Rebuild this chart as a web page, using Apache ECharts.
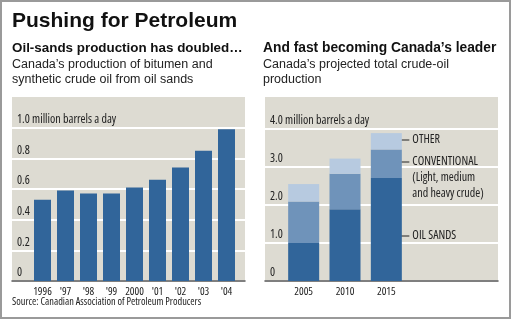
<!DOCTYPE html>
<html>
<head>
<meta charset="utf-8">
<script src="https://cdn.jsdelivr.net/npm/echarts@6/dist/echarts.min.js"></script>
<style>
  html, body { margin: 0; padding: 0; background: #fff; }
  #chart { width: 520px; height: 322px; }
</style>
</head>
<body>
<div id="chart"></div>
<script>
// Oil-sands output, million barrels a day
const years = ['1996', "'97", "'98", "'99", '2000', "'01", "'02", "'03", "'04"];
const oilSandsOutput = [0.53, 0.59, 0.57, 0.57, 0.61, 0.66, 0.74, 0.85, 0.99];
const leftTickLabels = ['0', '0.2', '0.4', '0.6', '0.8', '1.0 million barrels a day'];

// Projected total crude-oil production, million barrels a day
const projYears = ['2005', '2010', '2015'];
const oilSands = [1.0, 1.89, 2.71];
const conventional = [1.09, 0.93, 0.75];
const other = [0.46, 0.40, 0.43];
const rightTickLabels = ['0', '1.0', '2.0', '3.0', '4.0 million barrels a day'];
const segmentNames = ['OIL SANDS', 'CONVENTIONAL\n(Light, medium\nand heavy crude)', 'OTHER'];

const NARROW = "'Open Sans', 'Liberation Sans', sans-serif";
const SANS = "'Liberation Sans', Arial, sans-serif";
const PANEL = '#dddbd2';
const DARK = '#31659a';
const MID = '#6f93ba';
const LIGHT = '#b7cae0';

const chart = echarts.init(document.getElementById('chart'), null, { renderer: 'canvas' });

function panelY(idx, max, interval, labels) {
  return {
    gridIndex: idx, type: 'value', min: 0, max: max, interval: interval,
    axisLine: { show: false }, axisTick: { show: false },
    splitLine: { show: true, showMaxLine: false, lineStyle: { color: '#fff', width: 2 } },
    axisLabel: {
      inside: true, margin: 5, showMaxLabel: false,
      color: '#222', fontFamily: NARROW, fontStyle: 'condensed', fontSize: 12,
      verticalAlign: 'bottom', padding: [0, 0, 2, 0],
      formatter: v => {
        const i = Math.round(v / interval);
        return Math.abs(v - i * interval) < 1e-6 ? (labels[i] || '') : '';
      }
    }
  };
}
function hiddenY(idx, max) {
  return { gridIndex: idx, type: 'value', min: 0, max: max, show: false };
}
function baseX(idx) {
  return {
    gridIndex: idx, type: 'value', min: 0, max: 1,
    axisLabel: { show: false }, axisTick: { show: false }, splitLine: { show: false },
    axisLine: { show: true, lineStyle: { color: '#555', width: 1.5 } }
  };
}
function catX(idx, cats) {
  return {
    gridIndex: idx, type: 'category', data: cats,
    axisLine: { show: false }, axisTick: { show: false },
    axisLabel: { interval: 0, margin: 5, color: '#222', fontFamily: NARROW, fontStyle: 'condensed', fontSize: 11 }
  };
}

const LMAX = 1.2, RMAX = 4.84;

chart.setOption({
  animation: false,
  grid: [
    { left: 12, top: 97, width: 233, height: 184, show: true, backgroundColor: PANEL, borderWidth: 0 },
    { left: 31, top: 97, width: 207, height: 184 },
    { left: 265, top: 97, width: 233, height: 184, show: true, backgroundColor: PANEL, borderWidth: 0 },
    { left: 283, top: 97, width: 124, height: 184 }
  ],
  xAxis: [baseX(0), catX(1, years), baseX(2), catX(3, projYears)],
  yAxis: [
    panelY(0, LMAX, 0.2, leftTickLabels), hiddenY(1, LMAX),
    panelY(2, RMAX, 1, rightTickLabels), hiddenY(3, RMAX)
  ],
  series: [
    { type: 'bar', xAxisIndex: 1, yAxisIndex: 1, data: oilSandsOutput, barWidth: 17,
      itemStyle: { color: DARK } },
    { type: 'bar', xAxisIndex: 3, yAxisIndex: 3, stack: 'total', data: oilSands, barWidth: 31,
      itemStyle: { color: DARK } },
    { type: 'bar', xAxisIndex: 3, yAxisIndex: 3, stack: 'total', data: conventional, barWidth: 31,
      itemStyle: { color: MID } },
    { type: 'bar', xAxisIndex: 3, yAxisIndex: 3, stack: 'total', data: other, barWidth: 31,
      itemStyle: { color: LIGHT } }
  ]
});

// Headings, notes and the segment call-outs on the latest projected bar
const g = [];
g.push({ type: 'rect', shape: { x: 1, y: 1, width: 509, height: 317 },
  style: { fill: 'none', stroke: '#9a9a9a', lineWidth: 2 }, silent: true });
g.push({ type: 'text', x: 12, y: 21, style: { text: 'Pushing for Petroleum', fill: '#111',
  font: '900 21px ' + SANS, verticalAlign: 'middle' } });
g.push({ type: 'text', x: 12, y: 48, style: { text: 'Oil-sands production has doubled\u2026', fill: '#111',
  font: 'bold 13.4px ' + SANS, verticalAlign: 'middle' } });
g.push({ type: 'text', x: 263, y: 48, style: { text: 'And fast becoming Canada\u2019s leader', fill: '#111',
  font: 'bold 13.8px ' + SANS, verticalAlign: 'middle' } });
g.push({ type: 'text', x: 12, y: 57, style: { text: 'Canada\u2019s production of bitumen and\nsynthetic crude oil from oil sands',
  fill: '#222', font: '12.5px ' + SANS, lineHeight: 15, verticalAlign: 'top' } });
g.push({ type: 'text', x: 263, y: 57, style: { text: 'Canada\u2019s projected total crude-oil\nproduction',
  fill: '#222', font: '12.5px ' + SANS, lineHeight: 15, verticalAlign: 'top' } });
g.push({ type: 'text', x: 12, y: 302, style: { text: 'Source: Canadian Association of Petroleum Producers',
  fill: '#222', font: 'condensed 10.3px ' + NARROW, verticalAlign: 'middle' } });

const last = projYears.length - 1;
const segs = [oilSands[last], conventional[last], other[last]];
const anchorFrac = [0.44, 0.55, 0.58];
let base = 0;
segs.forEach((v, i) => {
  const p = chart.convertToPixel({ seriesIndex: 1 }, [last, base + v * anchorFrac[i]]);
  base += v;
  const dx = p[0] + 4, dy = Math.round(p[1]);
  g.push({ type: 'line', shape: { x1: dx, y1: dy, x2: dx + 19, y2: dy },
    style: { stroke: '#222', lineWidth: 1 } });
  g.push({ type: 'circle', shape: { cx: dx, cy: dy, r: 3 }, style: { fill: '#111' } });
  g.push({ type: 'text', x: dx + 22, y: dy - 8, style: { text: segmentNames[i], fill: '#222',
    font: 'condensed 12px ' + NARROW, lineHeight: 16, verticalAlign: 'top' } });
});
chart.setOption({ graphic: g });
</script>
</body>
</html>
